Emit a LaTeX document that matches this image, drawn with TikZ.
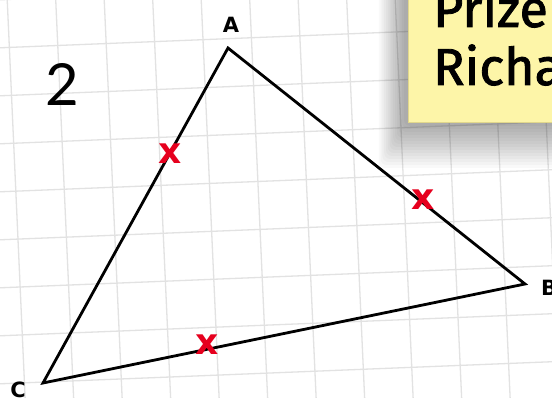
\documentclass[tikz,border=0pt]{standalone}
\usepackage{fontspec}
\newfontfamily\labfont{DejaVu Sans}
\newfontfamily\numfont{Lato}
\newfontfamily\notefont[FakeBold=1.6]{Fira Sans}
\definecolor{gridgray}{RGB}{226,226,226}
\definecolor{notey}{RGB}{253,245,168}
\definecolor{noteedge}{RGB}{225,215,140}
\definecolor{markred}{RGB}{230,0,30}
\tikzset{
  gridline/.style={draw=gridgray, line width=1.3pt},
  side/.style={draw=black, line width=2.8pt, line join=miter},
  vlabel/.style={font=\labfont\bfseries\fontsize{21}{21}\selectfont, inner sep=0pt},
  xmark/.style={text=markred, font=\labfont\bfseries\fontsize{36}{36}\selectfont, inner sep=0pt},
  notetext/.style={font=\notefont\fontsize{52}{52}\selectfont, inner sep=0pt, anchor=base west},
}
\begin{document}
\begin{tikzpicture}[x=1pt, y=-1pt]
\useasboundingbox (0,0) rectangle (552,398);
\clip (0,0) rectangle (552,398);
\fill[white] (0,0) rectangle (552,398);
% grid
\foreach \k in {-1,...,12} {
  \draw[gridline] (7+48.5*\k, -5) -- (7+48.5*\k+0.045*410, 405);
}
\foreach \k in {-1,...,9} {
  \draw[gridline] (-5, 48+48*\k) -- (560, 48+48*\k-0.04*565);
}
% note shadow
\foreach \i in {0,...,14} {
  \fill[black, opacity=0.024, rounded corners=6pt] (404-1.8*\i, -20) rectangle (600, 126+3*\i);
}
% note
\fill[notey, draw=noteedge, line width=0.8pt] (408,-20) rectangle (600,122);
\node[notetext] (p1) at (433,27) {Prize};
\node[notetext] (p2) at (433,85) {Richa};
% number
\node[font=\numfont\fontsize{58}{58}\selectfont, inner sep=0pt] (num) at (62,84) {2};
% triangle
\coordinate (A) at (228,48);
\coordinate (B) at (525,284);
\coordinate (C) at (43,383);
\draw[side] (A) -- (B) -- (C) -- cycle;
\node[vlabel] (la) at (231,25) {A};
\node[vlabel, anchor=west] (lb) at (541,288) {B};
\node[vlabel] (lc) at (18,390) {C};
% marks
\node[xmark] (m1) at (170,154) {x};
\node[xmark] (m2) at (423,200) {x};
\node[xmark] (m3) at (207,345) {x};
\end{tikzpicture}
\end{document}
